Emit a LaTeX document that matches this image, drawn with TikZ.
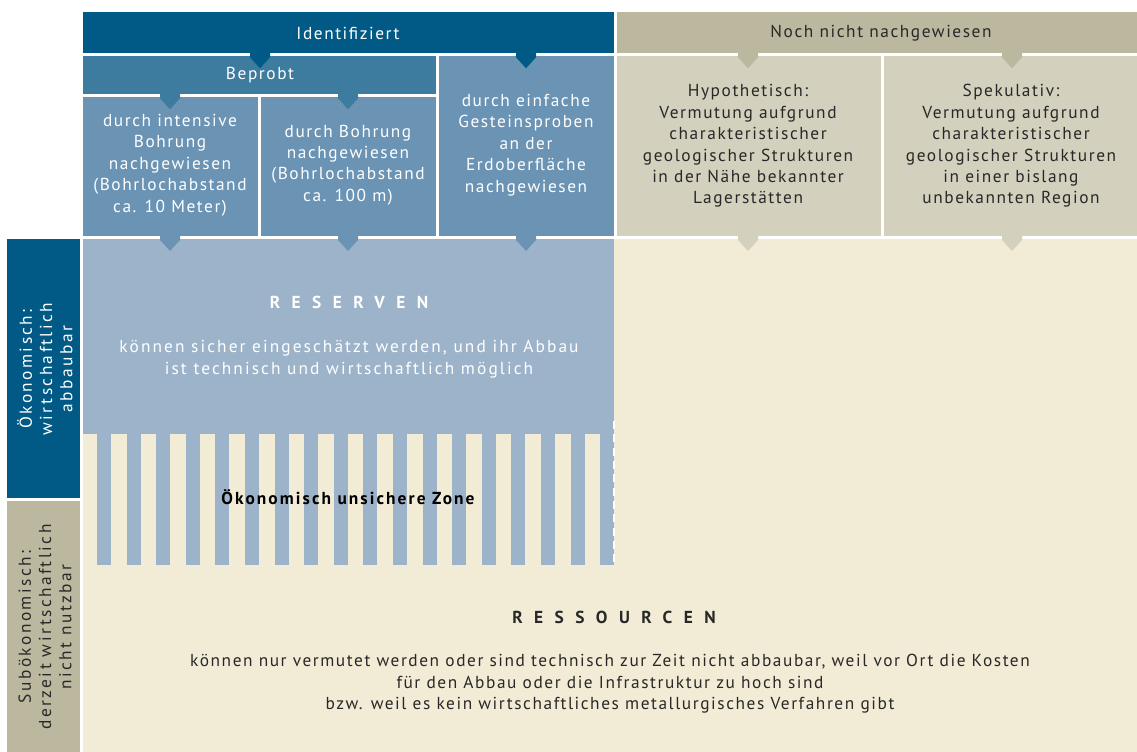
\documentclass[tikz,border=0pt]{standalone}
\usepackage{fontspec}
\setmainfont{PT Sans}[LetterSpace=9]
\newfontfamily\widefont{PT Sans}[LetterSpace=66]
\newfontfamily\zonefont{PT Sans}[LetterSpace=12]
\newfontfamily\sidefont{PT Sans}[LetterSpace=14]
\definecolor{dblue}{RGB}{0,90,133}
\definecolor{mblue}{RGB}{61,123,159}
\definecolor{cblue}{RGB}{106,147,180}
\definecolor{lblue}{RGB}{157,179,202}
\definecolor{cream}{RGB}{242,236,215}
\definecolor{tanc}{RGB}{188,184,160}
\definecolor{ltan}{RGB}{211,208,189}
\definecolor{darktext}{RGB}{40,40,40}
\tikzset{
  tab/.pic={\fill[#1] (-10,-1) -- (10,-1) -- (10,4) -- (0,15) -- (-10,4) -- cycle;},
  txt/.style={align=center, inner sep=0pt, font=\fontsize{13}{16.1}\selectfont},
  lt/.style={txt, text=white},
  dk/.style={txt, text=darktext},
  side/.style={align=center, inner sep=0pt, rotate=90, font=\fontsize{13}{15.2}\selectfont\sidefont},
  bigcap/.style={inner sep=0pt, font=\fontsize{13}{16}\selectfont\widefont\bfseries},
}
\begin{document}
\begin{tikzpicture}[x=0.75pt,y=-0.75pt]
\useasboundingbox (0,0) rectangle (1137,752);
\fill[white] (0,0) rectangle (1137,752);
% header row
\fill[dblue] (83,12) rectangle (614,53.3);
\fill[tanc] (616.5,12) rectangle (1137,53.3);
% second row
\fill[mblue] (83,56.3) rectangle (436,94.3);
\fill[cblue] (83,97.3) rectangle (258.3,236);
\fill[cblue] (261.3,97.3) rectangle (436,236);
\fill[cblue] (439,56.3) rectangle (614,236);
\fill[ltan] (616.5,56.3) rectangle (881,236);
\fill[ltan] (884,56.3) rectangle (1137,236);
% left labels
\fill[dblue] (7,239) rectangle (80,497.7);
\fill[tanc] (7,501) rectangle (80,752);
% main area
\fill[cream] (83,239) rectangle (1137,752);
\fill[lblue] (83,239) rectangle (614,433.5);
\foreach \i in {0,...,17} \fill[lblue] ({97+29.6*\i},433) rectangle ++(14,132);
\draw[white, line width=1.5pt, dash pattern=on 6pt off 4pt] (614,421) -- (614,565);
% tabs
\pic at (260,53.3) {tab=dblue};
\pic at (526,53.3) {tab=dblue};
\pic at (170,94.3) {tab=mblue};
\pic at (348,94.3) {tab=mblue};
\pic at (170,236) {tab=cblue};
\pic at (348,236) {tab=cblue};
\pic at (526,236) {tab=cblue};
\pic at (748,53.3) {tab=tanc};
\pic at (1012,53.3) {tab=tanc};
\pic at (748,236) {tab=ltan};
\pic at (1012,236) {tab=ltan};
% texts
\node[lt] (ident) at (348,33) {Identifiziert};
\node[dk] (noch) at (881,33) {Noch nicht nachgewiesen};
\node[lt] (beprobt) at (260,75) {Beprobt};
\node[lt] (col1) at (170,165) {durch intensive\\Bohrung\\nachgewiesen\\(Bohrlochabstand\\ca. 10 Meter)};
\node[lt] (col2) at (348,165) {durch Bohrung\\nachgewiesen\\(Bohrlochabstand\\ca. 100 m)};
\node[lt] (col3) at (526,145) {durch einfache\\Gesteinsproben\\an der\\Erdoberfläche\\nachgewiesen};
\node[dk] (hyp) at (748,146) {Hypothetisch:\\Vermutung aufgrund\\charakteristischer\\geologischer Strukturen\\in der Nähe bekannter\\Lagerstätten};
\node[dk] (spek) at (1011,146) {Spekulativ:\\Vermutung aufgrund\\charakteristischer\\geologischer Strukturen\\in einer bislang\\unbekannten Region};
\node[side, text=white] (oeko) at (45,369) {Ökonomisch:\\wirtschaftlich\\abbaubar};
\node[side, text=darktext] (suboeko) at (45,627) {Subökonomisch:\\derzeit wirtschaftlich\\nicht nutzbar};
\node[bigcap, text=white] (reserven) at (349,302) {RESERVEN};
\node[lt, font=\fontsize{13}{16.1}\selectfont\addfontfeature{LetterSpace=12}] (restext) at (349,359) {können sicher eingeschätzt werden, und ihr Abbau\\ist technisch und wirtschaftlich möglich};
\node[txt, text=black, font=\fontsize{13}{16}\selectfont\zonefont\bfseries] (zone) at (348,497) {Ökonomisch unsichere Zone};
\node[bigcap, text=darktext] (ressourcen) at (614,617) {RESSOURCEN};
\node[dk] (restext2) at (610,684) {können nur vermutet werden oder sind technisch zur Zeit nicht abbaubar, weil vor Ort die Kosten\\für den Abbau oder die Infrastruktur zu hoch sind\\bzw. weil es kein wirtschaftliches metallurgisches Verfahren gibt};
\end{tikzpicture}
\end{document}
